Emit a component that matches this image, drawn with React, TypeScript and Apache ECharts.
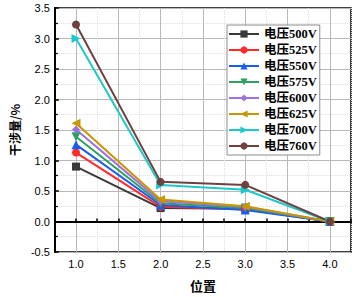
import React, { useEffect, useRef } from "react";
import * as echarts from "echarts";

const positions = [1, 2, 3, 4];
const seriesNames = ["电压500V", "电压525V", "电压550V", "电压575V", "电压600V", "电压625V", "电压700V", "电压760V"];
const v500 = [0.9, 0.22, 0.21, 0];
const v525 = [1.13, 0.24, 0.2, 0];
const v550 = [1.26, 0.27, 0.19, 0];
const v575 = [1.39, 0.3, 0.22, 0];
const v600 = [1.51, 0.33, 0.24, 0];
const v625 = [1.61, 0.36, 0.25, 0];
const v700 = [3.0, 0.6, 0.52, 0];
const v760 = [3.23, 0.65, 0.6, 0];
const allValues = [v500, v525, v550, v575, v600, v625, v700, v760];

const colors = ["#3a3a3a", "#ff2a2a", "#1a5cf0", "#2ca060", "#a070e0", "#c89600", "#1ec8c8", "#6e4040"];
const symbols = ["rect", "circle", "triangle", "triangle", "diamond", "triangle", "triangle", "circle"];
const rotations = [0, 0, 0, 180, 0, 90, -90, 0];

export default function App() {
  const ref = useRef<HTMLDivElement>(null);
  useEffect(() => {
    if (!ref.current) return;
    const chart = echarts.init(ref.current, undefined, { renderer: "svg" });
    const axisFont = { fontFamily: "Liberation Sans, Arial", fontSize: 11, color: "#000" };
    const xCommon = {
      type: "value" as const,
      min: 0.75,
      max: 4.25,
      interval: 0.25,
    };
    chart.setOption({
      animation: false,
      backgroundColor: "#fff",
      grid: {
        left: 42,
        top: 8,
        right: 3,
        bottom: 40,
        show: true,
        borderColor: "#000",
        borderWidth: 1.5,
        backgroundColor: "transparent",
      },
      xAxis: [
        {
          ...xCommon,
          name: "位置",
          nameLocation: "middle",
          nameGap: 27,
          nameTextStyle: { fontFamily: "Noto Sans CJK SC", fontWeight: "bold", fontSize: 13, color: "#000" },
          axisLine: { show: true, lineStyle: { color: "#000", width: 2 } },
          axisTick: { show: true, inside: true, length: 3, lineStyle: { color: "#000", width: 1.5 } },
          axisLabel: {
            ...axisFont,
            margin: 6,
            formatter: (v: number) => (Math.abs(v * 2 - Math.round(v * 2)) < 1e-9 ? v.toFixed(1) : ""),
          },
          splitLine: { show: true, lineStyle: { color: ["rgba(0,0,0,0)", "#b8b8b8"], width: 1 } },
        },
        {
          ...xCommon,
          position: "bottom",
          axisLine: { show: false },
          axisTick: { show: false },
          axisLabel: { show: false },
          splitLine: { show: true, lineStyle: { color: ["#dedede", "rgba(0,0,0,0)"], width: 1, type: "dotted" } },
        },
      ],
      yAxis: {
        type: "value",
        min: -0.5,
        max: 3.5,
        interval: 0.5,
        name: "干涉量/%",
        nameLocation: "middle",
        nameGap: 29,
        nameTextStyle: { fontFamily: "Noto Sans CJK SC", fontWeight: "bold", fontSize: 12, color: "#000" },
        axisLine: { show: true, lineStyle: { color: "#000", width: 2 } },
        axisTick: { show: true, inside: true, length: 4, lineStyle: { color: "#000", width: 1.5 } },
        minorTick: { show: true, splitNumber: 2, length: 3, lineStyle: { color: "#000", width: 1.2 } },
        axisLabel: { ...axisFont, margin: 5, formatter: (v: number) => v.toFixed(1) },
        splitLine: { show: true, lineStyle: { color: "#b8b8b8", width: 1 } },
        minorSplitLine: { show: true, lineStyle: { color: "#dedede", width: 1, type: "dotted" } },
      },
      legend: {
        left: 227,
        top: 25,
        orient: "vertical",
        itemWidth: 30,
        itemHeight: 9,
        itemGap: 2,
        padding: [2, 3, 2, 1],
        borderColor: "#8c8c8c",
        borderWidth: 1,
        backgroundColor: "#fff",
        textStyle: {
          fontFamily: "Liberation Serif, Noto Sans CJK SC",
          fontWeight: "bold",
          fontSize: 12.5,
          lineHeight: 14,
          color: "#000",
        },
        data: seriesNames,
      },
      series: seriesNames.map((name, i) => ({
        name,
        type: "line",
        xAxisIndex: 0,
        data: positions.map((p, j) => [p, allValues[i][j]]),
        symbol: symbols[i],
        symbolRotate: rotations[i],
        symbolSize: symbols[i] === "triangle" ? 9 : 8,
        color: colors[i],
        lineStyle: { color: colors[i], width: 2 },
        itemStyle: { color: colors[i] },
      })),
    });
    return () => chart.dispose();
  }, []);
  return <div ref={ref} style={{ position: "absolute", left: 0, top: 0, width: 354, height: 297 }} />;
}
